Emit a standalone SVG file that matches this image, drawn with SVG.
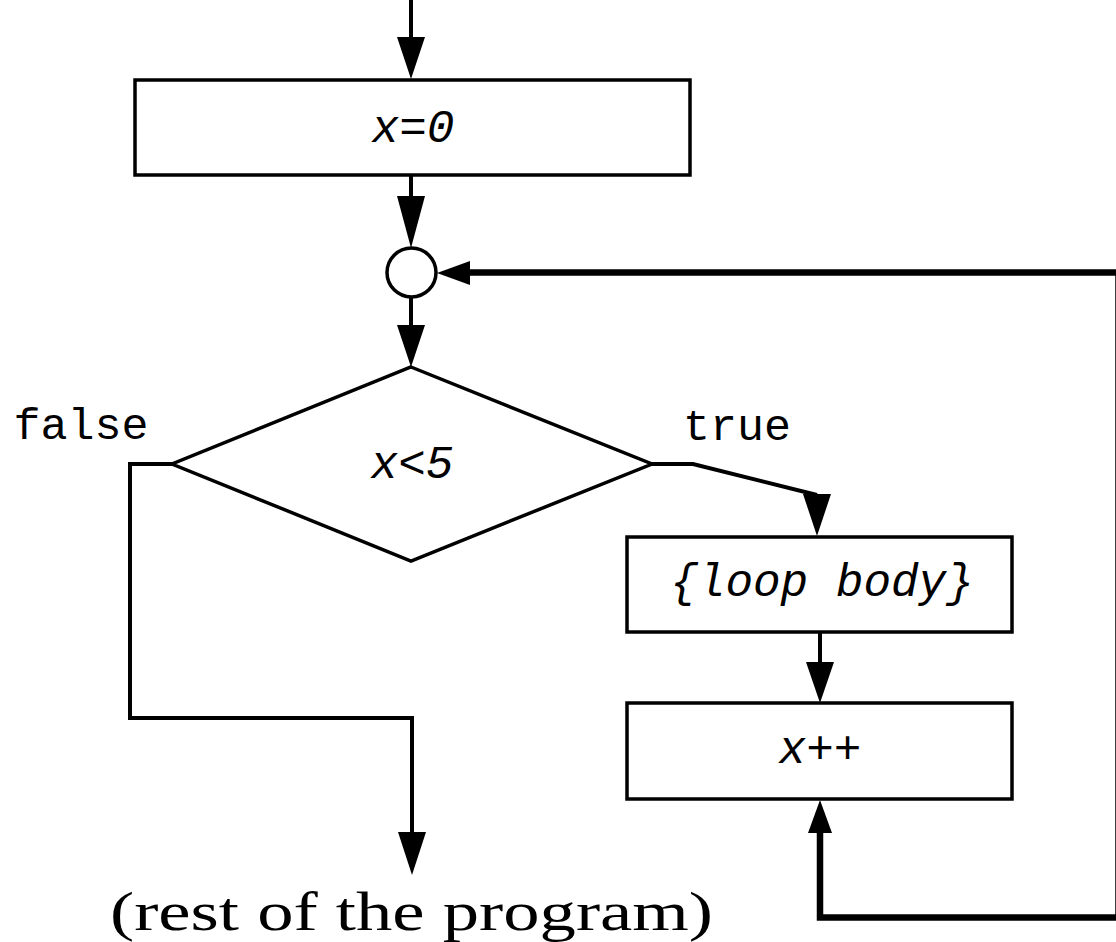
<svg xmlns="http://www.w3.org/2000/svg" width="1116" height="942" viewBox="0 0 1116 942">
<style>
.box{fill:#fff;stroke:#000;stroke-width:3.5}
.ln{fill:none;stroke:#000;stroke-width:4}
.thick{fill:none;stroke:#000;stroke-width:6.5}
.ah{fill:#000;stroke:none}
.code{font-family:"Liberation Mono","Courier New",monospace;font-size:45px;fill:#000}
.it{font-style:italic;font-size:46px}
.serif{font-family:"Liberation Serif","Times New Roman",serif;font-size:54px;fill:#000}
</style>
<rect width="1116" height="942" fill="#fff"/>
<g id="connectors">
  <line class="ln" x1="411" y1="0" x2="411" y2="40"/>
  <polygon class="ah" points="397,37 425,37 411,79"/>
  <line class="ln" x1="411" y1="175" x2="411" y2="198"/>
  <polygon class="ah" points="397,196 425,196 411,248"/>
  <line class="ln" x1="411" y1="297" x2="411" y2="328"/>
  <polygon class="ah" points="397,325 425,325 411,367"/>
  <path class="ln" d="M652,464 H693 L817,495"/>
  <polygon class="ah" points="803,494 831,494 817,536"/>
  <path class="ln" d="M172,464 H130 V718 H412 V835"/>
  <polygon class="ah" points="398,832 426,832 412,875"/>
  <line class="ln" x1="820" y1="632" x2="820" y2="665"/>
  <polygon class="ah" points="806,662 834,662 820,703"/>
  <path class="thick" d="M820,831 V917.5 H1118.5 V272.5 H466"/>
  <polygon class="ah" points="808,833 832,833 820,800"/>
  <polygon class="ah" points="470,261 470,285 437,273"/>
  <text class="code" x="81" y="439" text-anchor="middle">false</text>
  <text class="code" x="737" y="440" text-anchor="middle">true</text>
</g>
<g id="start">
  <rect class="box" x="135" y="80" width="555" height="95"/>
  <text class="code it" x="413" y="142" text-anchor="middle">x=0</text>
</g>
<g id="junction">
  <circle cx="411.5" cy="272.5" r="24.5" fill="#fff" stroke="#000" stroke-width="3.5"/>
</g>
<g id="condition">
  <polygon class="box" points="411,367 652,464 411,561 172,464"/>
  <text class="code it" x="412" y="478" text-anchor="middle">x&lt;5</text>
</g>
<g id="body">
  <rect class="box" x="627" y="537" width="385" height="95"/>
  <text class="code it" x="822" y="596" text-anchor="middle">{loop body}</text>
</g>
<g id="increment">
  <rect class="box" x="627" y="703" width="385" height="96"/>
  <text class="code it" x="820" y="763" text-anchor="middle">x++</text>
</g>
<g id="rest">
  <text class="serif" x="110" y="930" textLength="603" lengthAdjust="spacingAndGlyphs">(rest of the program)</text>
</g>
</svg>
